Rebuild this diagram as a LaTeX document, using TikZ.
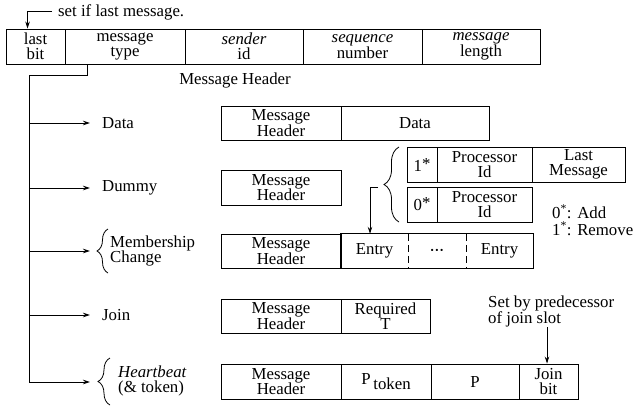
\documentclass[tikz,border=0pt]{standalone}
\usepackage{fontspec}
\setmainfont{Liberation Serif}
\usetikzlibrary{arrows.meta,decorations.pathreplacing,calc}
\begin{document}
\begin{tikzpicture}[x=1pt,y=-1pt,
  every node/.style={font=\fontsize{16.8}{15.5}\selectfont, inner sep=0pt},
  cell/.style 2 args={draw, line width=0.9pt, align=center, minimum width=#1pt, minimum height=#2pt},
  plain/.style 2 args={align=center, minimum width=#1pt, minimum height=#2pt},
  lbl/.style={anchor=west, align=left},
  arr/.style={-{Stealth[length=7pt,width=4.5pt]}, line width=0.8pt},
  ln/.style={line width=0.9pt},
  bracedeco/.style={decorate, decoration={brace, amplitude=#1}, line width=0.8pt}]
\useasboundingbox (0,0) rectangle (636,407);

% header row
\node[cell={59}{35}] (lastbit) at (35.5,46.5) {last\\bit};
\node[cell={120}{35}] (msgtype) at (125,46.5) {message\\type};
\node[cell={118}{35}] (sender) at (244,46.5) {\textit{sender}\\id};
\node[cell={119}{35}] (seqnum) at (362.5,46.5) {\textit{sequence}\\number};
\node[cell={118}{35}] (msglen) at (481,46.5) {\textit{message}\\length};

\node[lbl] (setlast) at (58,12) {set if last message.};
\coordinate (lb) at ($(lastbit.north west)+(22,0)$);
\draw[arr] ($(setlast.west)+(-6,-1)$) -| (lb);

\node (mhlabel) at (235,80) {Message Header};

% tree
\coordinate (t0) at ($(msgtype.south west)+(23,0)$);
\coordinate (bData) at (29,123);
\coordinate (tData) at (90,123);
\coordinate (bDummy) at (29,188);
\coordinate (tDummy) at (90,188);
\coordinate (bMem) at (29,251);
\coordinate (tMem) at (90,251);
\coordinate (bJoin) at (29,315);
\coordinate (tJoin) at (90,315);
\coordinate (bHeart) at (29,382);
\coordinate (tHeart) at (90,382);
\draw[arr] (t0) -- ++(0,11) -| (bHeart) -- (tHeart);
\draw[arr] (bData) -- (tData);
\draw[arr] (bDummy) -- (tDummy);
\draw[arr] (bMem) -- (tMem);
\draw[arr] (bJoin) -- (tJoin);

% labels
\node[lbl] (lData) at (102,123) {Data};
\node[lbl] (lDummy) at (102,188) {Dummy};
\node[lbl] (lMem) at (110,251) {Membership\\Change};
\node[lbl] (lJoin) at (102,315) {Join};
\node[lbl] (lHeart) at (118,381) {\textit{Heartbeat}\\(\& token)};
\draw[bracedeco=11pt] (108,273) -- (108,229);
\draw[bracedeco=12pt] (110,405) -- (110,358);

% data row
\node[cell={120}{34}] (dmh) at (281,123) {Message\\Header};
\node[cell={148}{34}] (ddata) at (415,123) {Data};

% dummy row
\node[cell={120}{35}] (ymh) at (281,187.5) {Message\\Header};

% processor entries
\node[cell={30}{35}] (s1) at (422,164.5) {1\raisebox{2pt}{*}};
\node[cell={95}{35}] (p1) at (484.5,164.5) {Processor\\Id};
\node[cell={93}{35}] (lm) at (578.5,164.5) {Last\\Message};
\node[cell={30}{35}] (s0) at (422,204.5) {0\raisebox{2pt}{*}};
\node[cell={95}{35}] (p0) at (484.5,204.5) {Processor\\Id};
\draw[bracedeco=15pt] (399,222) -- (399,147);
\coordinate (bt) at (378,187);

\node[lbl] (addl) at (552,212) {0\textsuperscript{*}: Add};
\node[lbl] (reml) at (552,229) {1\textsuperscript{*}: Remove};

% membership row
\node[cell={120}{34}] (mmh) at (281,251) {Message\\Header};
\node[plain={67}{34}] (e1) at (374.5,251) {Entry};
\node[plain={58}{34}] (edots) at (437,251) {\scalebox{0.55}{\textbullet\,\textbullet\,\textbullet}};
\node[plain={67}{34}] (e2) at (499.5,251) {Entry};
\draw[ln] (e1.north west) rectangle (e2.south east);
\draw[ln, dash pattern=on 7pt off 4pt] (e1.north east) -- (e1.south east);
\draw[ln, dash pattern=on 7pt off 4pt] (edots.north east) -- (edots.south east);
\coordinate (ea) at ($(e1.north)+(-4.5,0)$);
\draw[arr] (bt) -| (ea);

% join row
\node[cell={120}{34}] (jmh) at (281,316) {Message\\Header};
\node[cell={89}{34}] (reqT) at (385.5,316) {Required\\T};

% heartbeat row
\node[cell={120}{35}] (hmh) at (281,381.5) {Message\\Header};
\node[cell={90}{35}] (ptok) at (386,381.5) {P\,\raisebox{-5pt}{token}};
\node[cell={88}{35}] (pp) at (475,381.5) {P};
\node[cell={59}{35}] (jbit) at (548.5,381.5) {Join\\bit};
\node[lbl, font=\fontsize{16.8}{16}\selectfont] (setby) at (488,311) {Set by predecessor\\of join slot};
\coordinate (sa) at (547,327);
\draw[arr] (sa) -- (sa |- jbit.north);
\end{tikzpicture}
\end{document}
